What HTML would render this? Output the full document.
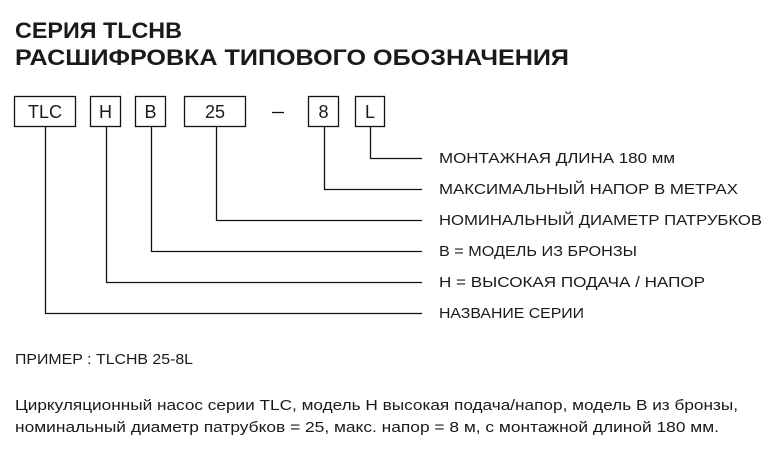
<!DOCTYPE html>
<html><head><meta charset="utf-8"><style>
html,body{margin:0;padding:0;background:#fff;width:776px;height:449px;overflow:hidden}
svg{display:block}
text{font-family:"Liberation Sans",sans-serif;fill:#1a1a1a}
</style></head><body>
<svg width="776" height="449" viewBox="0 0 776 449">
<g font-weight="bold" font-size="22">
<text x="15" y="38" textLength="167" lengthAdjust="spacingAndGlyphs">СЕРИЯ TLCHB</text>
<text x="15" y="65" textLength="554" lengthAdjust="spacingAndGlyphs">РАСШИФРОВКА ТИПОВОГО ОБОЗНАЧЕНИЯ</text>
</g>
<g fill="none" stroke="#111" stroke-width="1.3">
<rect x="14.5" y="96.5" width="61" height="30"/>
<rect x="90.5" y="96.5" width="30" height="30"/>
<rect x="135.5" y="96.5" width="30" height="30"/>
<rect x="184.5" y="96.5" width="61" height="30"/>
<rect x="308.5" y="96.5" width="30" height="30"/>
<rect x="355.5" y="96.5" width="29" height="30"/>
<line x1="272" y1="112.5" x2="284" y2="112.5"/>
<polyline points="370.5,127 370.5,158.5 422,158.5"/>
<polyline points="324.5,127 324.5,189.5 422,189.5"/>
<polyline points="216.5,127 216.5,220.5 422,220.5"/>
<polyline points="151.5,127 151.5,251.5 422,251.5"/>
<polyline points="106.5,127 106.5,282.5 422,282.5"/>
<polyline points="45.5,127 45.5,313.5 422,313.5"/>
</g>
<g font-size="18" text-anchor="middle">
<text x="45" y="118">TLC</text>
<text x="105.5" y="118">H</text>
<text x="150.5" y="118">B</text>
<text x="215" y="118">25</text>
<text x="323.5" y="118">8</text>
<text x="370" y="118">L</text>
</g>
<g font-size="15" lengthAdjust="spacingAndGlyphs">
<text x="439" y="163" textLength="236" lengthAdjust="spacingAndGlyphs">МОНТАЖНАЯ ДЛИНА 180 мм</text>
<text x="439" y="194" textLength="299" lengthAdjust="spacingAndGlyphs">МАКСИМАЛЬНЫЙ НАПОР В МЕТРАХ</text>
<text x="439" y="225" textLength="323" lengthAdjust="spacingAndGlyphs">НОМИНАЛЬНЫЙ ДИАМЕТР ПАТРУБКОВ</text>
<text x="439" y="256" textLength="198" lengthAdjust="spacingAndGlyphs">В = МОДЕЛЬ ИЗ БРОНЗЫ</text>
<text x="439" y="287" textLength="266" lengthAdjust="spacingAndGlyphs">Н = ВЫСОКАЯ ПОДАЧА / НАПОР</text>
<text x="439" y="318" textLength="145" lengthAdjust="spacingAndGlyphs">НАЗВАНИЕ СЕРИИ</text>
<text x="15" y="364" textLength="178" lengthAdjust="spacingAndGlyphs">ПРИМЕР : TLCHB 25-8L</text>
<text x="15" y="410" textLength="723" lengthAdjust="spacingAndGlyphs">Циркуляционный насос серии TLC, модель H высокая подача/напор, модель B из бронзы,</text>
<text x="15" y="432" textLength="704" lengthAdjust="spacingAndGlyphs">номинальный диаметр патрубков = 25, макс. напор = 8 м, с монтажной длиной 180 мм.</text>
</g>
</svg>
</body></html>
